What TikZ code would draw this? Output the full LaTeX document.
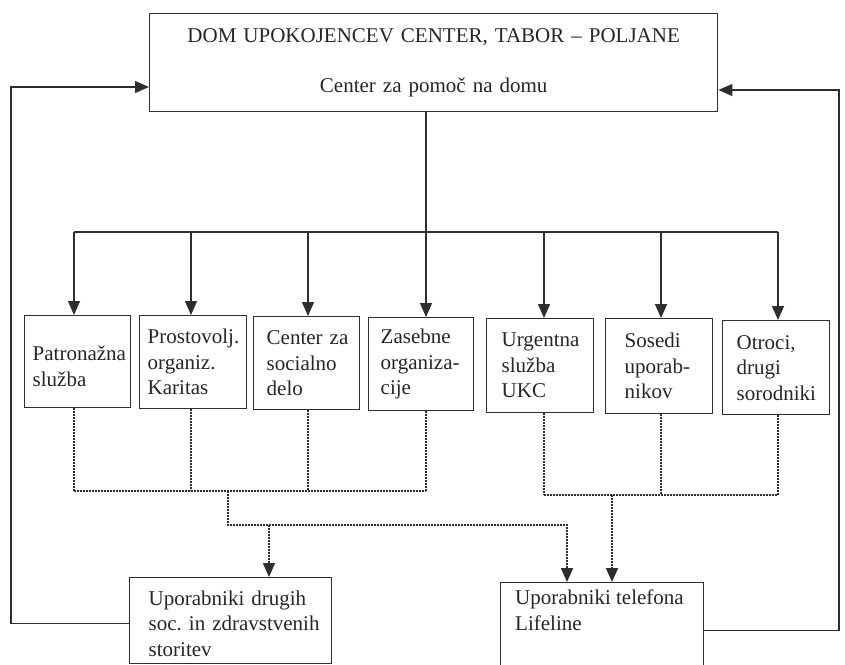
\documentclass[tikz,border=0pt]{standalone}
\usepackage{fontspec}
\setmainfont{Liberation Serif}
\usetikzlibrary{arrows.meta}
\definecolor{ink}{HTML}{2E2E2E}
\hyphenpenalty=10000
\exhyphenpenalty=10000
\frenchspacing
\begin{document}
\begin{tikzpicture}[x=1pt,y=-1pt,
  line/.style={draw=ink, line width=1.3pt},
  arr/.style={line, -{Triangle[length=14pt,width=12pt]}},
  dots/.style={draw=ink, line width=1.6pt, dash pattern=on 1.5pt off 1.5pt},
  darr/.style={dots, -{Triangle[length=14pt,width=12pt]}},
  box/.style={draw=ink, line width=1.4pt, align=left, anchor=north west, inner ysep=0pt,
    font=\fontsize{21}{25.5}\selectfont, text=black!85},
  txt/.style={align=left, anchor=north west, inner sep=0pt,
    font=\fontsize{21}{25.5}\selectfont, text=black!85}]
\useasboundingbox[fill=white] (0,0) rectangle (845,664);

% top box
\node[box, align=center, text width=540pt, inner xsep=14pt, minimum height=98pt] (top) at (149,13)
  {DOM UPOKOJENCEV CENTER, TABOR – POLJANE\\[24pt]Center~za~pomoč~na~domu};

% middle boxes
\node[box, inner xsep=8pt,  text width=90pt, minimum height=92pt] (b1) at (24,315) {\rule{0pt}{24pt}Patronažna\\služba};
\node[box, inner xsep=8pt,  text width=91pt, minimum height=93pt] (b2) at (139,315) {Prostovolj.\\organiz.\\Karitas};
\node[box, inner xsep=13pt, text width=80pt, minimum height=93pt] (b3) at (253,316) {Center~za\\socialno\\delo};
\node[box, inner xsep=12pt, text width=81pt, minimum height=93pt] (b4) at (368,317) {Zasebne\\organiza-\\cije};
\node[box, inner xsep=15pt, text width=77pt, minimum height=94pt] (b5) at (486,318) {Urgentna\\služba\\UKC};
\node[box, inner xsep=19pt, text width=69pt, minimum height=95pt] (b6) at (605,318) {Sosedi\\uporab-\\nikov};
\node[box, inner xsep=14pt, text width=79pt, minimum height=94pt] (b7) at (722,320) {Otroci,\\drugi\\sorodniki};

% bottom boxes
\node[box, inner xsep=19pt, text width=164pt, minimum height=86pt] (bl) at (129,577)
  {\rule{0pt}{20pt}Uporabniki~drugih\\soc.~in~zdravstvenih\\storitev};
\node[box, minimum width=203pt, minimum height=96pt] (life) at (500,582) {};
\node[txt] (lifetext) at (515,590) {Uporabniki~telefona\\Lifeline};

% bus
\coordinate (bus) at (426,232);
\coordinate (h1) at (74,232);
\coordinate (h2) at (191,232);
\coordinate (h3) at (308,232);
\coordinate (h4) at (426,232);
\coordinate (h5) at (544,232);
\coordinate (h6) at (661,232);
\coordinate (h7) at (778,232);
\draw[line] (top.south -| bus) -- (bus);
\draw[line] (h1) -- (h7);
\foreach \i in {1,...,7} {
  \draw[arr] (h\i) -- (h\i |- b\i.north);
}

% dotted connectors
\coordinate (l1) at (74,491);
\coordinate (l4) at (426,491);
\coordinate (r1) at (544,495);
\coordinate (r3) at (778,495);
\coordinate (ljoin) at (228,491);
\coordinate (ljoin2) at (228,525);
\coordinate (m1) at (269,525);
\coordinate (m2) at (567,525);
\coordinate (rjoin) at (612,495);
\foreach \i in {1,...,4} {
  \draw[dots] (h\i |- b\i.south) -- (h\i |- l1);
}
\foreach \i in {5,6,7} {
  \draw[dots] (h\i |- b\i.south) -- (h\i |- r1);
}
\draw[dots] (l1) -- (l4);
\draw[dots] (r1) -- (r3);
\draw[darr] (ljoin) -- (ljoin2) -- (m2) -- (m2 |- life.north);
\draw[darr] (m1) -- (m1 |- bl.north);
\draw[darr] (rjoin) -- (rjoin |- life.north);

% feedback loops
\coordinate (lx) at (11,87);
\coordinate (rx) at (839,90);
\draw[arr] ([yshift=-3pt]bl.west) -| (lx) -- (lx -| top.west);
\draw[arr] (life.east) -| (rx) -- (rx -| top.east);
\end{tikzpicture}
\end{document}
